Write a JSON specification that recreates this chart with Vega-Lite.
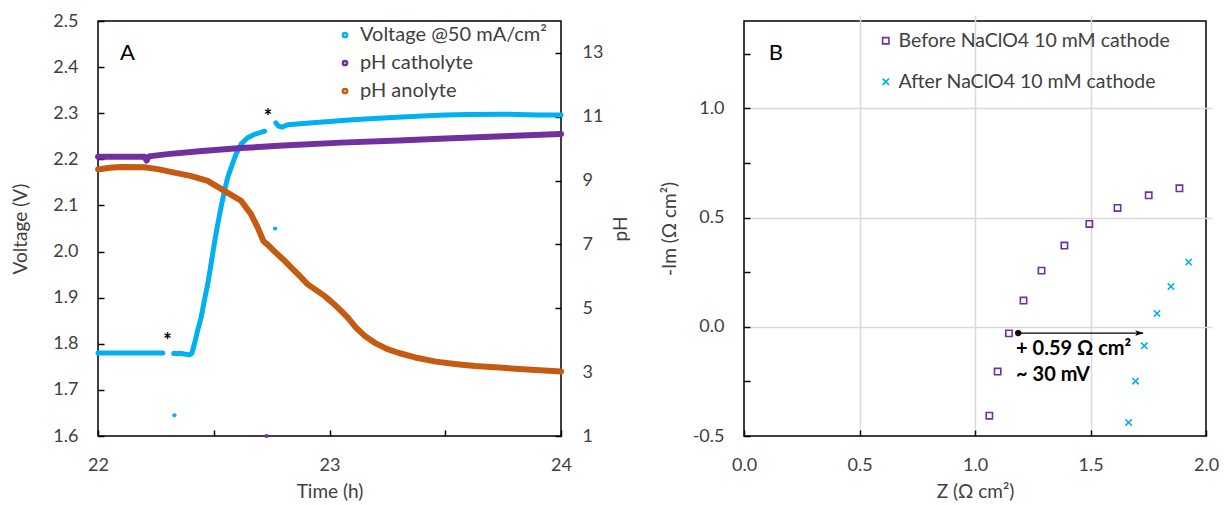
{
  "$schema": "https://vega.github.io/schema/vega-lite/v6.json",
  "background": "white",
  "padding": {"left": 11, "top": 11, "right": 5, "bottom": 2},
  "spacing": 27,
  "config": {
    "font": "Lato",
    "view": {"stroke": "black", "strokeWidth": 1.5},
    "axis": {
      "labelFont": "Lato", "labelFontSize": 18, "labelColor": "#404040",
      "titleFont": "Lato", "titleFontSize": 19, "titleFontWeight": "normal", "titleColor": "#404040",
      "domain": false, "tickColor": "black", "tickWidth": 1.5, "tickSize": 6, "offset": -6,
      "grid": false, "labelOverlap": false, "labelBound": false
    },
    "legend": {"labelFont": "Lato", "labelFontSize": 20, "labelColor": "#404040", "padding": 0, "title": null, "labelLimit": 0}
  },
  "resolve": {"scale": {"color": "independent", "shape": "independent"}, "legend": {"color": "independent", "shape": "independent"}},
  "datasets": {
    "volt": [
      {"t": 22.0, "v": 1.780, "seg": 1, "series": "Voltage @50 mA/cm²"},
      {"t": 22.1, "v": 1.780, "seg": 1, "series": "Voltage @50 mA/cm²"},
      {"t": 22.2, "v": 1.780, "seg": 1, "series": "Voltage @50 mA/cm²"},
      {"t": 22.28, "v": 1.780, "seg": 1, "series": "Voltage @50 mA/cm²"},
      {"t": 22.327, "v": 1.779, "seg": 2, "series": "Voltage @50 mA/cm²"},
      {"t": 22.36, "v": 1.779, "seg": 2, "series": "Voltage @50 mA/cm²"},
      {"t": 22.395, "v": 1.776, "seg": 2, "series": "Voltage @50 mA/cm²"},
      {"t": 22.405, "v": 1.779, "seg": 2, "series": "Voltage @50 mA/cm²"},
      {"t": 22.416, "v": 1.799, "seg": 2, "series": "Voltage @50 mA/cm²"},
      {"t": 22.43, "v": 1.828, "seg": 2, "series": "Voltage @50 mA/cm²"},
      {"t": 22.445, "v": 1.856, "seg": 2, "series": "Voltage @50 mA/cm²"},
      {"t": 22.459, "v": 1.893, "seg": 2, "series": "Voltage @50 mA/cm²"},
      {"t": 22.474, "v": 1.929, "seg": 2, "series": "Voltage @50 mA/cm²"},
      {"t": 22.488, "v": 1.972, "seg": 2, "series": "Voltage @50 mA/cm²"},
      {"t": 22.502, "v": 2.016, "seg": 2, "series": "Voltage @50 mA/cm²"},
      {"t": 22.517, "v": 2.059, "seg": 2, "series": "Voltage @50 mA/cm²"},
      {"t": 22.531, "v": 2.095, "seg": 2, "series": "Voltage @50 mA/cm²"},
      {"t": 22.546, "v": 2.131, "seg": 2, "series": "Voltage @50 mA/cm²"},
      {"t": 22.56, "v": 2.160, "seg": 2, "series": "Voltage @50 mA/cm²"},
      {"t": 22.575, "v": 2.182, "seg": 2, "series": "Voltage @50 mA/cm²"},
      {"t": 22.596, "v": 2.211, "seg": 2, "series": "Voltage @50 mA/cm²"},
      {"t": 22.618, "v": 2.233, "seg": 2, "series": "Voltage @50 mA/cm²"},
      {"t": 22.646, "v": 2.247, "seg": 2, "series": "Voltage @50 mA/cm²"},
      {"t": 22.675, "v": 2.254, "seg": 2, "series": "Voltage @50 mA/cm²"},
      {"t": 22.72, "v": 2.261, "seg": 2, "series": "Voltage @50 mA/cm²"},
      {"t": 22.768, "v": 2.279, "seg": 3, "series": "Voltage @50 mA/cm²"},
      {"t": 22.78, "v": 2.272, "seg": 3, "series": "Voltage @50 mA/cm²"},
      {"t": 22.795, "v": 2.270, "seg": 3, "series": "Voltage @50 mA/cm²"},
      {"t": 22.82, "v": 2.275, "seg": 3, "series": "Voltage @50 mA/cm²"},
      {"t": 22.9, "v": 2.278, "seg": 3, "series": "Voltage @50 mA/cm²"},
      {"t": 23.0, "v": 2.282, "seg": 3, "series": "Voltage @50 mA/cm²"},
      {"t": 23.1, "v": 2.286, "seg": 3, "series": "Voltage @50 mA/cm²"},
      {"t": 23.25, "v": 2.290, "seg": 3, "series": "Voltage @50 mA/cm²"},
      {"t": 23.4, "v": 2.294, "seg": 3, "series": "Voltage @50 mA/cm²"},
      {"t": 23.5, "v": 2.296, "seg": 3, "series": "Voltage @50 mA/cm²"},
      {"t": 23.6, "v": 2.297, "seg": 3, "series": "Voltage @50 mA/cm²"},
      {"t": 23.75, "v": 2.298, "seg": 3, "series": "Voltage @50 mA/cm²"},
      {"t": 23.9, "v": 2.296, "seg": 3, "series": "Voltage @50 mA/cm²"},
      {"t": 24.0, "v": 2.296, "seg": 3, "series": "Voltage @50 mA/cm²"}
    ],
    "voltOut": [
      {"t": 22.33, "v": 1.645},
      {"t": 22.765, "v": 2.05}
    ],
    "stars": [
      {"t": 22.30, "v": 1.803, "label": "*"},
      {"t": 22.734, "v": 2.289, "label": "*"}
    ],
    "ph": [
      {"t": 22.0, "ph": 9.75, "series": "pH catholyte"},
      {"t": 22.1, "ph": 9.75, "series": "pH catholyte"},
      {"t": 22.2, "ph": 9.75, "series": "pH catholyte"},
      {"t": 22.21, "ph": 9.63, "series": "pH catholyte"},
      {"t": 22.22, "ph": 9.76, "series": "pH catholyte"},
      {"t": 22.3, "ph": 9.83, "series": "pH catholyte"},
      {"t": 22.45, "ph": 9.93, "series": "pH catholyte"},
      {"t": 22.618, "ph": 10.02, "series": "pH catholyte"},
      {"t": 22.8, "ph": 10.10, "series": "pH catholyte"},
      {"t": 23.05, "ph": 10.19, "series": "pH catholyte"},
      {"t": 23.3, "ph": 10.26, "series": "pH catholyte"},
      {"t": 23.5, "ph": 10.32, "series": "pH catholyte"},
      {"t": 23.75, "ph": 10.39, "series": "pH catholyte"},
      {"t": 24.0, "ph": 10.46, "series": "pH catholyte"},
      {"t": 22.0, "ph": 9.35, "series": "pH anolyte"},
      {"t": 22.05, "ph": 9.40, "series": "pH anolyte"},
      {"t": 22.1, "ph": 9.43, "series": "pH anolyte"},
      {"t": 22.2, "ph": 9.42, "series": "pH anolyte"},
      {"t": 22.258, "ph": 9.36, "series": "pH anolyte"},
      {"t": 22.33, "ph": 9.25, "series": "pH anolyte"},
      {"t": 22.4, "ph": 9.15, "series": "pH anolyte"},
      {"t": 22.474, "ph": 8.99, "series": "pH anolyte"},
      {"t": 22.546, "ph": 8.68, "series": "pH anolyte"},
      {"t": 22.618, "ph": 8.37, "series": "pH anolyte"},
      {"t": 22.661, "ph": 7.95, "series": "pH anolyte"},
      {"t": 22.69, "ph": 7.53, "series": "pH anolyte"},
      {"t": 22.715, "ph": 7.10, "series": "pH anolyte"},
      {"t": 22.735, "ph": 6.98, "series": "pH anolyte"},
      {"t": 22.76, "ph": 6.80, "series": "pH anolyte"},
      {"t": 22.8, "ph": 6.53, "series": "pH anolyte"},
      {"t": 22.834, "ph": 6.28, "series": "pH anolyte"},
      {"t": 22.87, "ph": 6.02, "series": "pH anolyte"},
      {"t": 22.906, "ph": 5.75, "series": "pH anolyte"},
      {"t": 22.95, "ph": 5.53, "series": "pH anolyte"},
      {"t": 22.978, "ph": 5.39, "series": "pH anolyte"},
      {"t": 23.02, "ph": 5.13, "series": "pH anolyte"},
      {"t": 23.05, "ph": 4.92, "series": "pH anolyte"},
      {"t": 23.08, "ph": 4.70, "series": "pH anolyte"},
      {"t": 23.115, "ph": 4.39, "series": "pH anolyte"},
      {"t": 23.15, "ph": 4.15, "series": "pH anolyte"},
      {"t": 23.2, "ph": 3.90, "series": "pH anolyte"},
      {"t": 23.25, "ph": 3.72, "series": "pH anolyte"},
      {"t": 23.3, "ph": 3.60, "series": "pH anolyte"},
      {"t": 23.37, "ph": 3.46, "series": "pH anolyte"},
      {"t": 23.46, "ph": 3.33, "series": "pH anolyte"},
      {"t": 23.55, "ph": 3.25, "series": "pH anolyte"},
      {"t": 23.63, "ph": 3.19, "series": "pH anolyte"},
      {"t": 23.8, "ph": 3.11, "series": "pH anolyte"},
      {"t": 24.0, "ph": 3.02, "series": "pH anolyte"}
    ],
    "phOut": [
      {"t": 22.728, "ph": 1.0}
    ],
    "eis": [
      {"z": 1.062, "im": -0.407, "cond": "Before NaClO4 10 mM cathode"},
      {"z": 1.098, "im": -0.205, "cond": "Before NaClO4 10 mM cathode"},
      {"z": 1.147, "im": -0.030, "cond": "Before NaClO4 10 mM cathode"},
      {"z": 1.210, "im": 0.120, "cond": "Before NaClO4 10 mM cathode"},
      {"z": 1.288, "im": 0.257, "cond": "Before NaClO4 10 mM cathode"},
      {"z": 1.387, "im": 0.372, "cond": "Before NaClO4 10 mM cathode"},
      {"z": 1.495, "im": 0.471, "cond": "Before NaClO4 10 mM cathode"},
      {"z": 1.617, "im": 0.544, "cond": "Before NaClO4 10 mM cathode"},
      {"z": 1.752, "im": 0.602, "cond": "Before NaClO4 10 mM cathode"},
      {"z": 1.885, "im": 0.634, "cond": "Before NaClO4 10 mM cathode"},
      {"z": 1.665, "im": -0.438, "cond": "After NaClO4 10 mM cathode"},
      {"z": 1.695, "im": -0.249, "cond": "After NaClO4 10 mM cathode"},
      {"z": 1.733, "im": -0.087, "cond": "After NaClO4 10 mM cathode"},
      {"z": 1.788, "im": 0.061, "cond": "After NaClO4 10 mM cathode"},
      {"z": 1.848, "im": 0.184, "cond": "After NaClO4 10 mM cathode"},
      {"z": 1.925, "im": 0.296, "cond": "After NaClO4 10 mM cathode"}
    ],
    "arrow": [
      {"z": 1.187, "z2": 1.728, "im": -0.029}
    ],
    "notes": [
      {"z": 1.178, "im": -0.100, "label": "+ 0.59 Ω cm²"},
      {"z": 1.178, "im": -0.223, "label": "~ 30 mV"}
    ]
  },
  "hconcat": [
    {
      "width": 463,
      "height": 415,
      "layer": [
        {
          "layer": [
            {
              "data": {"name": "volt"},
              "mark": {"type": "line", "strokeWidth": 5, "strokeCap": "round", "strokeJoin": "round"},
              "encoding": {
                "x": {"field": "t", "type": "quantitative", "title": "Time (h)",
                  "scale": {"domain": [22, 24], "nice": false, "zero": false},
                  "axis": {"values": [22, 22.5, 23, 23.5, 24], "labelExpr": "datum.value % 1 == 0 ? format(datum.value, 'd') : ''", "labelFlush": false, "labelPadding": 20, "titlePadding": 8}},
                "y": {"field": "v", "type": "quantitative", "title": "Voltage (V)",
                  "scale": {"domain": [1.6, 2.5], "nice": false, "zero": false},
                  "axis": {"orient": "left", "values": [1.6, 1.7, 1.8, 1.9, 2.0, 2.1, 2.2, 2.3, 2.4, 2.5], "format": ".1f", "labelPadding": 20, "titlePadding": 22}},
                "detail": {"field": "seg"},
                "color": {"field": "series", "type": "nominal",
                  "scale": {"domain": ["Voltage @50 mA/cm²", "pH catholyte", "pH anolyte"], "range": ["#00B0F0", "#7030A0", "#C55A11"]},
                  "legend": {"orient": "none", "legendX": 237, "legendY": 4, "symbolType": "circle", "symbolSize": 18, "symbolStrokeWidth": 2.5, "rowPadding": 8, "labelOffset": 5}}
              }
            },
            {
              "data": {"name": "voltOut"},
              "mark": {"type": "point", "filled": true, "size": 18, "color": "#00B0F0", "opacity": 1},
              "encoding": {
                "x": {"field": "t", "type": "quantitative"},
                "y": {"field": "v", "type": "quantitative"}
              }
            },
            {
              "data": {"name": "stars"},
              "mark": {"type": "text", "fontSize": 20, "fontWeight": "bold", "color": "black", "align": "center", "baseline": "middle"},
              "encoding": {
                "x": {"field": "t", "type": "quantitative"},
                "y": {"field": "v", "type": "quantitative"},
                "text": {"field": "label"}
              }
            },
            {
              "data": {"values": [{"t": 22.127, "v": 2.431, "label": "A"}]},
              "mark": {"type": "text", "fontSize": 22, "color": "black", "align": "center", "baseline": "middle"},
              "encoding": {
                "x": {"field": "t", "type": "quantitative"},
                "y": {"field": "v", "type": "quantitative"},
                "text": {"field": "label"}
              }
            }
          ]
        },
        {
          "layer": [
            {
              "data": {"name": "ph"},
              "mark": {"type": "line", "strokeWidth": 6, "strokeCap": "round", "strokeJoin": "round"},
              "encoding": {
                "x": {"field": "t", "type": "quantitative"},
                "y": {"field": "ph", "type": "quantitative", "title": "pH",
                  "scale": {"domain": [1, 14], "nice": false, "zero": false},
                  "axis": {"orient": "right", "values": [1, 2, 3, 4, 5, 6, 7, 8, 9, 10, 11, 12, 13, 14], "labelExpr": "datum.value % 2 == 1 && datum.value < 14 ? format(datum.value, 'd') : ''", "labelPadding": 21, "titlePadding": 9, "titleAngle": 270, "titleBaseline": "top"}},
                "color": {"field": "series", "type": "nominal", "legend": null}
              }
            },
            {
              "data": {"name": "phOut"},
              "mark": {"type": "point", "filled": true, "size": 18, "color": "#7030A0", "opacity": 1},
              "encoding": {
                "x": {"field": "t", "type": "quantitative"},
                "y": {"field": "ph", "type": "quantitative"}
              }
            }
          ]
        }
      ],
      "resolve": {"scale": {"y": "independent"}}
    },
    {
      "width": 462,
      "height": 415,
      "layer": [
        {
          "data": {"name": "eis"},
          "mark": {"type": "point", "filled": false, "strokeWidth": 1.6, "size": 40, "opacity": 1},
          "encoding": {
            "x": {"field": "z", "type": "quantitative", "title": "Z (Ω cm²)",
              "scale": {"domain": [0, 2], "nice": false, "zero": false},
              "axis": {"values": [0, 0.5, 1, 1.5, 2], "format": ".1f", "labelFlush": false, "grid": true, "gridColor": "#D9D9D9", "gridWidth": 1.5,
                "gridOpacity": {"condition": {"test": "datum.value > 0.01 && datum.value < 1.99", "value": 1}, "value": 0},
                "labelPadding": 20, "titlePadding": 8}},
            "y": {"field": "im", "type": "quantitative", "title": "-Im (Ω cm²)",
              "scale": {"domain": [-0.5, 1.4], "nice": false, "zero": false},
              "axis": {"values": [-0.5, -0.25, 0, 0.25, 0.5, 0.75, 1, 1.25],
                "labelExpr": "abs(datum.value*2 - round(datum.value*2)) < 0.001 ? replace(format(datum.value, '.1f'), '\u2212', '-') : ''",
                "grid": true, "gridColor": "#D9D9D9", "gridWidth": 1.5,
                "gridOpacity": {"condition": {"test": "abs(datum.value*2 - round(datum.value*2)) < 0.001 && datum.value > -0.4", "value": 1}, "value": 0},
                "labelPadding": 20, "titlePadding": 13}},
            "color": {"field": "cond", "type": "nominal",
              "scale": {"domain": ["Before NaClO4 10 mM cathode", "After NaClO4 10 mM cathode"], "range": ["#7030A0", "#00B0F0"]},
              "legend": {"orient": "none", "legendX": 132, "legendY": 10, "symbolSize": 40, "symbolStrokeWidth": 1.6, "rowPadding": 20, "labelOffset": 3, "labelFontSize": 19.5}},
            "shape": {"field": "cond", "type": "nominal",
              "scale": {"domain": ["Before NaClO4 10 mM cathode", "After NaClO4 10 mM cathode"], "range": ["square", "M-1,-1L1,1M1,-1L-1,1"]},
              "legend": {"orient": "none", "legendX": 132, "legendY": 10, "symbolSize": 40, "symbolStrokeWidth": 1.6, "rowPadding": 20, "labelOffset": 3, "labelFontSize": 19.5}}
          }
        },
        {
          "data": {"name": "arrow"},
          "mark": {"type": "rule", "color": "black", "strokeWidth": 1.3},
          "encoding": {
            "x": {"field": "z", "type": "quantitative"},
            "x2": {"field": "z2"},
            "y": {"field": "im", "type": "quantitative"}
          }
        },
        {
          "data": {"name": "arrow"},
          "mark": {"type": "point", "filled": true, "color": "black", "size": 40, "opacity": 1},
          "encoding": {
            "x": {"field": "z", "type": "quantitative"},
            "y": {"field": "im", "type": "quantitative"}
          }
        },
        {
          "data": {"name": "arrow"},
          "mark": {"type": "point", "filled": true, "color": "black", "size": 64, "opacity": 1, "shape": "M-2,-0.7L0,0L-2,0.7L-1.5,0Z"},
          "encoding": {
            "x": {"field": "z2", "type": "quantitative"},
            "y": {"field": "im", "type": "quantitative"}
          }
        },
        {
          "data": {"name": "notes"},
          "mark": {"type": "text", "fontSize": 20, "fontWeight": "bold", "color": "black", "align": "left", "baseline": "middle"},
          "encoding": {
            "x": {"field": "z", "type": "quantitative"},
            "y": {"field": "im", "type": "quantitative"},
            "text": {"field": "label"}
          }
        },
        {
          "data": {"values": [{"z": 0.138, "im": 1.254, "label": "B"}]},
          "mark": {"type": "text", "fontSize": 22, "color": "black", "align": "center", "baseline": "middle"},
          "encoding": {
            "x": {"field": "z", "type": "quantitative"},
            "y": {"field": "im", "type": "quantitative"},
            "text": {"field": "label"}
          }
        }
      ]
    }
  ]
}
